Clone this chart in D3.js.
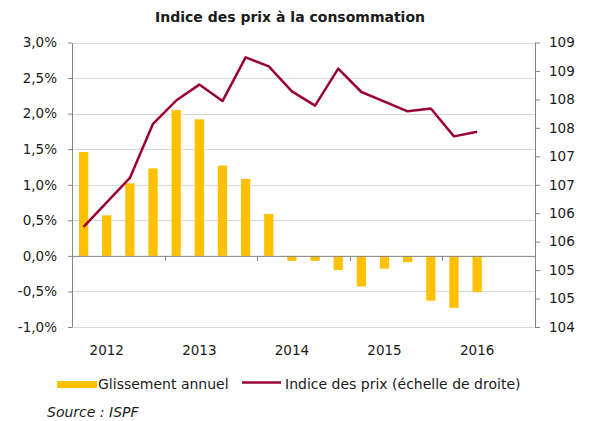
<!DOCTYPE html>
<html>
<head>
<meta charset="utf-8">
<script src="https://cdn.jsdelivr.net/npm/d3@7"></script>
<style>
  body { margin: 0; background: #fff; }
  svg text { font-family: Verdana, "DejaVu Sans", sans-serif; fill: #1a1a1a; }
</style>
</head>
<body>
<div id="chart"></div>
<script>
  const width = 592, height = 421;
  const margin = {top: 42.5, right: 57, bottom: 94, left: 72};

  // data
  const years = ["2012", "2013", "2014", "2015", "2016"];
  const quarters = ["T1", "T2", "T3", "T4"];
  const glissement = [1.46, 0.57, 1.02, 1.23, 2.05, 1.92, 1.27, 1.08, 0.59,
                      -0.07, -0.07, -0.20, -0.43, -0.18, -0.09, -0.63, -0.73, -0.51];
  const indice = [105.76, 106.19, 106.62, 107.57, 107.98, 108.26, 107.97, 108.74, 108.58,
                  108.14, 107.89, 108.54, 108.13, 107.96, 107.79, 107.84, 107.35, 107.43];
  const leftTicks = [-1, -0.5, 0, 0.5, 1, 1.5, 2, 2.5, 3];
  const rightTicks = [104, 104.5, 105, 105.5, 106, 106.5, 107, 107.5, 108, 108.5, 109];

  const categories = years.flatMap(y => quarters.map(q => y + q));
  const barData = glissement.map((v, i) => ({cat: categories[i], v: v}));
  const lineData = indice.map((v, i) => ({cat: categories[i], v: v}));

  const x = d3.scaleBand()
      .domain(categories)
      .range([margin.left, width - margin.right])
      .paddingInner(0.6)
      .paddingOuter(0.3);

  const yL = d3.scaleLinear().domain([-1, 3]).range([height - margin.bottom, margin.top]);
  const yR = d3.scaleLinear().domain([104, 109]).range([height - margin.bottom, margin.top]);

  const svg = d3.select("#chart").append("svg")
      .attr("width", width)
      .attr("height", height);

  // title
  svg.append("text")
      .attr("x", 290).attr("y", 22)
      .attr("text-anchor", "middle")
      .style("font-weight", "bold")
      .style("font-size", "14px")
      .text("Indice des prix à la consommation");

  // gridlines
  svg.append("g").selectAll("line").data(leftTicks).join("line")
      .attr("x1", margin.left).attr("x2", width - margin.right)
      .attr("y1", d => Math.round(yL(d)) + 0.5).attr("y2", d => Math.round(yL(d)) + 0.5)
      .attr("stroke", "#d9d9d9");

  // bars
  svg.append("g").selectAll("rect").data(barData).join("rect")
      .attr("x", d => x(d.cat))
      .attr("width", x.bandwidth())
      .attr("y", d => yL(Math.max(0, d.v)))
      .attr("height", d => Math.abs(yL(d.v) - yL(0)))
      .attr("fill", "#ffc000");

  // left axis
  svg.append("g")
      .attr("transform", `translate(${margin.left},0)`)
      .call(d3.axisLeft(yL).tickValues(leftTicks).tickSize(4).tickSizeOuter(0).tickPadding(11)
          .tickFormat(d => d3.format(".1f")(d).replace(".", ",").replace("−", "-") + "%"))
      .call(g => g.selectAll("text").style("font-size", "13.5px"));

  // right axis
  svg.append("g")
      .attr("transform", `translate(${width - margin.right},0)`)
      .call(d3.axisRight(yR).tickValues(rightTicks).tickSize(5).tickSizeOuter(0).tickPadding(9)
          .tickFormat(d => Math.round(d)))
      .call(g => g.selectAll("text").style("font-size", "13.5px"));

  // x axis (zero line, year labels at the T2 slot)
  const labelCats = years.map(y => y + "T2");
  svg.append("g")
      .attr("transform", `translate(0,${yL(0)})`)
      .call(d3.axisBottom(x).tickValues(labelCats).tickSize(0).tickSizeOuter(0).tickPadding(89.5)
          .tickFormat(d => d.slice(0, 4)))
      .call(g => g.selectAll("text").style("font-size", "13.5px"));

  // year boundary tick marks
  const gap = (x.step() - x.bandwidth()) / 2;
  svg.append("g").selectAll("line").data(years.slice(1)).join("line")
      .attr("x1", d => Math.round(x(d + "T1") - gap) + 0.5)
      .attr("x2", d => Math.round(x(d + "T1") - gap) + 0.5)
      .attr("y1", yL(0)).attr("y2", yL(0) + 5)
      .attr("stroke", "#868686");

  svg.selectAll(".domain, .tick line").attr("stroke", "#868686");

  // price index line
  svg.append("path")
      .datum(lineData)
      .attr("fill", "none")
      .attr("stroke", "#990033")
      .attr("stroke-width", 2.5)
      .attr("stroke-linejoin", "round")
      .attr("d", d3.line().x(d => x(d.cat) + x.bandwidth() / 2).y(d => yR(d.v)));

  // legend
  const legend = svg.append("g");
  legend.append("rect")
      .attr("x", 57).attr("y", 381).attr("width", 40).attr("height", 7)
      .attr("fill", "#ffc000");
  legend.append("text")
      .attr("x", 98).attr("y", 389)
      .style("font-size", "14px")
      .text("Glissement annuel");
  legend.append("line")
      .attr("x1", 242).attr("x2", 281).attr("y1", 382.5).attr("y2", 382.5)
      .attr("stroke", "#990033").attr("stroke-width", 2.5);
  legend.append("text")
      .attr("x", 285).attr("y", 389)
      .style("font-size", "14px")
      .text("Indice des prix (échelle de droite)");

  // source
  svg.append("text")
      .attr("x", 47).attr("y", 417)
      .style("font-size", "14px")
      .style("font-style", "italic")
      .text("Source : ISPF");
</script>
</body>
</html>
